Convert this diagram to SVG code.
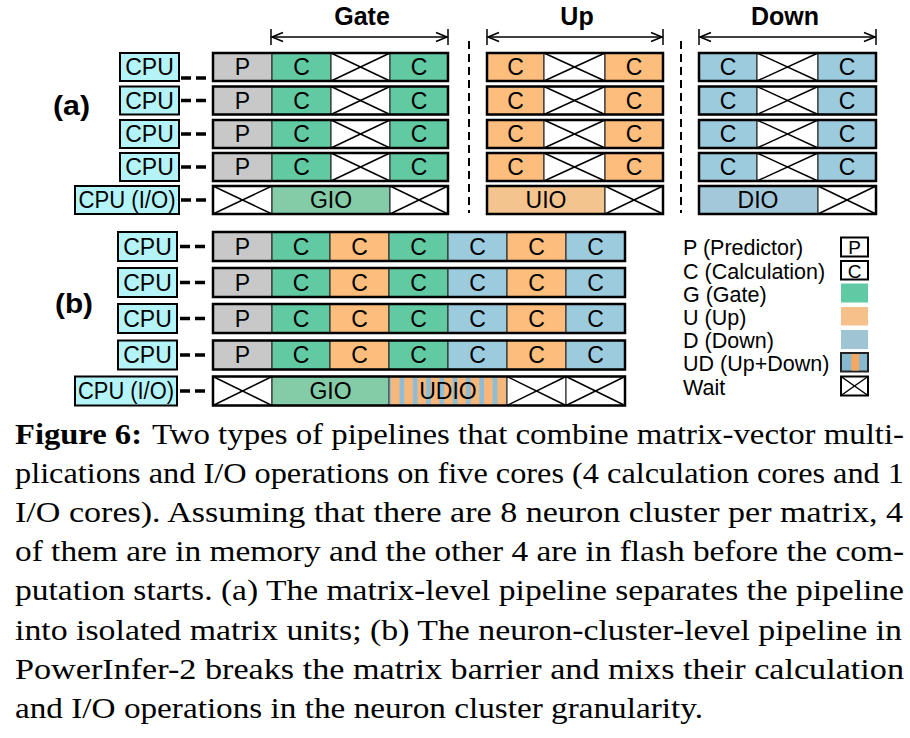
<svg xmlns="http://www.w3.org/2000/svg" width="910" height="738" viewBox="0 0 910 738" font-family="Liberation Sans, Arial, Helvetica, sans-serif">
<style>
.t{font-size:23px;text-anchor:middle;fill:#000}
.lg{font-size:21.5px;fill:#000}
.hd{font-size:25px;font-weight:bold;text-anchor:middle}
.lab{font-size:27px;font-weight:bold}
.cap{font-size:29px;fill:#000}
.cpu{fill:#b4f4f8;stroke:#000;stroke-width:2}
.cell{stroke:#333;stroke-width:1.2}
.frame{fill:none;stroke:#000;stroke-width:2.5}
.P{fill:#c8c8c8}.G{fill:#62caa3}.U{fill:#fdbd7c}.D{fill:#9dcbde}
.GIO{fill:#84cca8}.UIO{fill:#f4c48e}.DIO{fill:#a3c8da}
.W{fill:#fff}
.x{stroke:#000;stroke-width:1.5}
.dash{stroke:#000;stroke-width:3.5;stroke-dasharray:10 5;fill:none}
.vsep{stroke:#000;stroke-width:2;stroke-dasharray:8 5}
.arr{stroke:#000;stroke-width:1.5;fill:none}
</style>
<defs>
<marker id="ah" markerWidth="14" markerHeight="12" refX="12" refY="6" orient="auto-start-reverse" markerUnits="userSpaceOnUse">
<path d="M1,1.5 L12,6 L1,10.5" fill="none" stroke="#000" stroke-width="1.6"/>
</marker>
<pattern id="ud" patternUnits="userSpaceOnUse" x="391" y="0" width="13.3" height="40">
<rect x="0" y="0" width="13.3" height="40" fill="#f7b77a"/>
<rect x="8.5" y="0" width="4.8" height="40" fill="#8fbdd4"/>
</pattern>
</defs>

<!-- headers -->
<g id="headers">
<text class="hd" x="362" y="25">Gate</text>
<text class="hd" x="577" y="25">Up</text>
<text class="hd" x="785" y="25">Down</text>
<line class="arr" x1="272" y1="37" x2="447" y2="37" marker-start="url(#ah)" marker-end="url(#ah)"/>
<line class="arr" x1="271" y1="29" x2="271" y2="45"/><line class="arr" x1="448" y1="29" x2="448" y2="45"/>
<line class="arr" x1="488" y1="37" x2="662" y2="37" marker-start="url(#ah)" marker-end="url(#ah)"/>
<line class="arr" x1="487" y1="29" x2="487" y2="45"/><line class="arr" x1="663" y1="29" x2="663" y2="45"/>
<line class="arr" x1="700" y1="37" x2="875" y2="37" marker-start="url(#ah)" marker-end="url(#ah)"/>
<line class="arr" x1="699" y1="29" x2="699" y2="45"/><line class="arr" x1="876" y1="29" x2="876" y2="45"/>
<line class="vsep" x1="469" y1="41" x2="469" y2="213"/>
<line class="vsep" x1="681" y1="41" x2="681" y2="213"/>
<text class="lab" x="53" y="115" textLength="37" lengthAdjust="spacingAndGlyphs">(a)</text>
<text class="lab" x="55" y="313" textLength="38" lengthAdjust="spacingAndGlyphs">(b)</text>
</g>

<!-- connectors -->
<g id="connectors">
<line class="dash" x1="181" y1="78" x2="211" y2="78"/>
<line class="dash" x1="181" y1="100.5" x2="211" y2="100.5"/>
<line class="dash" x1="181" y1="134" x2="211" y2="134"/>
<line class="dash" x1="181" y1="167" x2="211" y2="167"/>
<line class="dash" x1="181" y1="200" x2="211" y2="200"/>
<line class="dash" x1="180" y1="246.5" x2="210" y2="246.5"/>
<line class="dash" x1="180" y1="282.5" x2="210" y2="282.5"/>
<line class="dash" x1="180" y1="318.5" x2="210" y2="318.5"/>
<line class="dash" x1="180" y1="355" x2="210" y2="355"/>
<line class="dash" x1="180" y1="391" x2="210" y2="391"/>
</g>

<!-- (a) CPU nodes -->
<g id="a-cpu1"><rect class="cpu" x="120" y="53" width="59" height="28"/><text class="t" x="149.5" y="75">CPU</text></g>
<g id="a-cpu2"><rect class="cpu" x="120" y="86.5" width="59" height="28"/><text class="t" x="149.5" y="108.5">CPU</text></g>
<g id="a-cpu3"><rect class="cpu" x="120" y="120" width="59" height="28"/><text class="t" x="149.5" y="142">CPU</text></g>
<g id="a-cpu4"><rect class="cpu" x="120" y="153" width="59" height="28"/><text class="t" x="149.5" y="175">CPU</text></g>
<g id="a-cpuio"><rect class="cpu" x="75" y="186" width="104" height="28"/><text class="t" x="127" y="208" textLength="97" lengthAdjust="spacingAndGlyphs">CPU (I/O)</text></g>

<!-- (a) Gate rows -->
<g id="a-gate1">
<rect class="cell P" x="213" y="53" width="59" height="28"/><rect class="cell G" x="272" y="53" width="59" height="28"/>
<rect class="cell W" x="331" y="53" width="59" height="28" stroke="#777"/><line class="x" x1="331" y1="53" x2="390" y2="81"/><line class="x" x1="331" y1="81" x2="390" y2="53"/>
<rect class="cell G" x="390" y="53" width="58" height="28"/><rect class="frame" x="213" y="53" width="235" height="28"/>
<text class="t" x="242.5" y="75">P</text><text class="t" x="301.5" y="75">C</text><text class="t" x="419" y="75">C</text>
</g>
<g id="a-gate2">
<rect class="cell P" x="213" y="86.5" width="59" height="28"/><rect class="cell G" x="272" y="86.5" width="59" height="28"/>
<rect class="cell W" x="331" y="86.5" width="59" height="28" stroke="#777"/><line class="x" x1="331" y1="86.5" x2="390" y2="114.5"/><line class="x" x1="331" y1="114.5" x2="390" y2="86.5"/>
<rect class="cell G" x="390" y="86.5" width="58" height="28"/><rect class="frame" x="213" y="86.5" width="235" height="28"/>
<text class="t" x="242.5" y="108.5">P</text><text class="t" x="301.5" y="108.5">C</text><text class="t" x="419" y="108.5">C</text>
</g>
<g id="a-gate3">
<rect class="cell P" x="213" y="120" width="59" height="28"/><rect class="cell G" x="272" y="120" width="59" height="28"/>
<rect class="cell W" x="331" y="120" width="59" height="28" stroke="#777"/><line class="x" x1="331" y1="120" x2="390" y2="148"/><line class="x" x1="331" y1="148" x2="390" y2="120"/>
<rect class="cell G" x="390" y="120" width="58" height="28"/><rect class="frame" x="213" y="120" width="235" height="28"/>
<text class="t" x="242.5" y="142">P</text><text class="t" x="301.5" y="142">C</text><text class="t" x="419" y="142">C</text>
</g>
<g id="a-gate4">
<rect class="cell P" x="213" y="153" width="59" height="28"/><rect class="cell G" x="272" y="153" width="59" height="28"/>
<rect class="cell W" x="331" y="153" width="59" height="28" stroke="#777"/><line class="x" x1="331" y1="153" x2="390" y2="181"/><line class="x" x1="331" y1="181" x2="390" y2="153"/>
<rect class="cell G" x="390" y="153" width="58" height="28"/><rect class="frame" x="213" y="153" width="235" height="28"/>
<text class="t" x="242.5" y="175">P</text><text class="t" x="301.5" y="175">C</text><text class="t" x="419" y="175">C</text>
</g>
<g id="a-gate5">
<rect class="cell W" x="213" y="186" width="59" height="28"/><line class="x" x1="213" y1="186" x2="272" y2="214"/><line class="x" x1="213" y1="214" x2="272" y2="186"/>
<rect class="cell GIO" x="272" y="186" width="118" height="28"/>
<rect class="cell W" x="390" y="186" width="58" height="28"/><line class="x" x1="390" y1="186" x2="448" y2="214"/><line class="x" x1="390" y1="214" x2="448" y2="186"/>
<rect class="frame" x="213" y="186" width="235" height="28"/>
<text class="t" x="331" y="208">GIO</text>
</g>

<!-- (a) Up rows -->
<g id="a-up1">
<rect class="cell U" x="487" y="53" width="57" height="28"/>
<rect class="cell W" x="544" y="53" width="61" height="28" stroke="#777"/><line class="x" x1="544" y1="53" x2="605" y2="81"/><line class="x" x1="544" y1="81" x2="605" y2="53"/>
<rect class="cell U" x="605" y="53" width="58" height="28"/><rect class="frame" x="487" y="53" width="176" height="28"/>
<text class="t" x="515.5" y="75">C</text><text class="t" x="634" y="75">C</text>
</g>
<g id="a-up2">
<rect class="cell U" x="487" y="86.5" width="57" height="28"/>
<rect class="cell W" x="544" y="86.5" width="61" height="28" stroke="#777"/><line class="x" x1="544" y1="86.5" x2="605" y2="114.5"/><line class="x" x1="544" y1="114.5" x2="605" y2="86.5"/>
<rect class="cell U" x="605" y="86.5" width="58" height="28"/><rect class="frame" x="487" y="86.5" width="176" height="28"/>
<text class="t" x="515.5" y="108.5">C</text><text class="t" x="634" y="108.5">C</text>
</g>
<g id="a-up3">
<rect class="cell U" x="487" y="120" width="57" height="28"/>
<rect class="cell W" x="544" y="120" width="61" height="28" stroke="#777"/><line class="x" x1="544" y1="120" x2="605" y2="148"/><line class="x" x1="544" y1="148" x2="605" y2="120"/>
<rect class="cell U" x="605" y="120" width="58" height="28"/><rect class="frame" x="487" y="120" width="176" height="28"/>
<text class="t" x="515.5" y="142">C</text><text class="t" x="634" y="142">C</text>
</g>
<g id="a-up4">
<rect class="cell U" x="487" y="153" width="57" height="28"/>
<rect class="cell W" x="544" y="153" width="61" height="28" stroke="#777"/><line class="x" x1="544" y1="153" x2="605" y2="181"/><line class="x" x1="544" y1="181" x2="605" y2="153"/>
<rect class="cell U" x="605" y="153" width="58" height="28"/><rect class="frame" x="487" y="153" width="176" height="28"/>
<text class="t" x="515.5" y="175">C</text><text class="t" x="634" y="175">C</text>
</g>
<g id="a-up5">
<rect class="cell UIO" x="487" y="186" width="118" height="28"/>
<rect class="cell W" x="605" y="186" width="58" height="28"/><line class="x" x1="605" y1="186" x2="663" y2="214"/><line class="x" x1="605" y1="214" x2="663" y2="186"/>
<rect class="frame" x="487" y="186" width="176" height="28"/>
<text class="t" x="546" y="208">UIO</text>
</g>

<!-- (a) Down rows -->
<g id="a-down1">
<rect class="cell D" x="699" y="53" width="58" height="28"/>
<rect class="cell W" x="757" y="53" width="61" height="28" stroke="#777"/><line class="x" x1="757" y1="53" x2="818" y2="81"/><line class="x" x1="757" y1="81" x2="818" y2="53"/>
<rect class="cell D" x="818" y="53" width="58" height="28"/><rect class="frame" x="699" y="53" width="177" height="28"/>
<text class="t" x="728" y="75">C</text><text class="t" x="847" y="75">C</text>
</g>
<g id="a-down2">
<rect class="cell D" x="699" y="86.5" width="58" height="28"/>
<rect class="cell W" x="757" y="86.5" width="61" height="28" stroke="#777"/><line class="x" x1="757" y1="86.5" x2="818" y2="114.5"/><line class="x" x1="757" y1="114.5" x2="818" y2="86.5"/>
<rect class="cell D" x="818" y="86.5" width="58" height="28"/><rect class="frame" x="699" y="86.5" width="177" height="28"/>
<text class="t" x="728" y="108.5">C</text><text class="t" x="847" y="108.5">C</text>
</g>
<g id="a-down3">
<rect class="cell D" x="699" y="120" width="58" height="28"/>
<rect class="cell W" x="757" y="120" width="61" height="28" stroke="#777"/><line class="x" x1="757" y1="120" x2="818" y2="148"/><line class="x" x1="757" y1="148" x2="818" y2="120"/>
<rect class="cell D" x="818" y="120" width="58" height="28"/><rect class="frame" x="699" y="120" width="177" height="28"/>
<text class="t" x="728" y="142">C</text><text class="t" x="847" y="142">C</text>
</g>
<g id="a-down4">
<rect class="cell D" x="699" y="153" width="58" height="28"/>
<rect class="cell W" x="757" y="153" width="61" height="28" stroke="#777"/><line class="x" x1="757" y1="153" x2="818" y2="181"/><line class="x" x1="757" y1="181" x2="818" y2="153"/>
<rect class="cell D" x="818" y="153" width="58" height="28"/><rect class="frame" x="699" y="153" width="177" height="28"/>
<text class="t" x="728" y="175">C</text><text class="t" x="847" y="175">C</text>
</g>
<g id="a-down5">
<rect class="cell DIO" x="699" y="186" width="119" height="28"/>
<rect class="cell W" x="818" y="186" width="58" height="28"/><line class="x" x1="818" y1="186" x2="876" y2="214"/><line class="x" x1="818" y1="214" x2="876" y2="186"/>
<rect class="frame" x="699" y="186" width="177" height="28"/>
<text class="t" x="758" y="208">DIO</text>
</g>

<!-- (b) CPU nodes -->
<g id="b-cpu1"><rect class="cpu" x="118" y="232" width="59" height="29"/><text class="t" x="147.5" y="254.5">CPU</text></g>
<g id="b-cpu2"><rect class="cpu" x="118" y="268" width="59" height="29"/><text class="t" x="147.5" y="290.5">CPU</text></g>
<g id="b-cpu3"><rect class="cpu" x="118" y="304" width="59" height="29"/><text class="t" x="147.5" y="326.5">CPU</text></g>
<g id="b-cpu4"><rect class="cpu" x="118" y="340.5" width="59" height="29"/><text class="t" x="147.5" y="363">CPU</text></g>
<g id="b-cpuio"><rect class="cpu" x="75" y="376.5" width="102" height="29"/><text class="t" x="126" y="399" textLength="96" lengthAdjust="spacingAndGlyphs">CPU (I/O)</text></g>

<!-- (b) rows -->
<g id="b-row1">
<rect class="cell P" x="213" y="232" width="59" height="29"/><rect class="cell G" x="272" y="232" width="58" height="29"/><rect class="cell U" x="330" y="232" width="59" height="29"/><rect class="cell G" x="389" y="232" width="59" height="29"/><rect class="cell D" x="448" y="232" width="59" height="29"/><rect class="cell U" x="507" y="232" width="59" height="29"/><rect class="cell D" x="566" y="232" width="59" height="29"/>
<rect class="frame" x="213" y="232" width="412" height="29"/>
<text class="t" x="242.5" y="254.5">P</text><text class="t" x="301" y="254.5">C</text><text class="t" x="359.5" y="254.5">C</text><text class="t" x="418.5" y="254.5">C</text><text class="t" x="477.5" y="254.5">C</text><text class="t" x="536.5" y="254.5">C</text><text class="t" x="595.5" y="254.5">C</text>
</g>
<g id="b-row2">
<rect class="cell P" x="213" y="268" width="59" height="29"/><rect class="cell G" x="272" y="268" width="58" height="29"/><rect class="cell U" x="330" y="268" width="59" height="29"/><rect class="cell G" x="389" y="268" width="59" height="29"/><rect class="cell D" x="448" y="268" width="59" height="29"/><rect class="cell U" x="507" y="268" width="59" height="29"/><rect class="cell D" x="566" y="268" width="59" height="29"/>
<rect class="frame" x="213" y="268" width="412" height="29"/>
<text class="t" x="242.5" y="290.5">P</text><text class="t" x="301" y="290.5">C</text><text class="t" x="359.5" y="290.5">C</text><text class="t" x="418.5" y="290.5">C</text><text class="t" x="477.5" y="290.5">C</text><text class="t" x="536.5" y="290.5">C</text><text class="t" x="595.5" y="290.5">C</text>
</g>
<g id="b-row3">
<rect class="cell P" x="213" y="304" width="59" height="29"/><rect class="cell G" x="272" y="304" width="58" height="29"/><rect class="cell U" x="330" y="304" width="59" height="29"/><rect class="cell G" x="389" y="304" width="59" height="29"/><rect class="cell D" x="448" y="304" width="59" height="29"/><rect class="cell U" x="507" y="304" width="59" height="29"/><rect class="cell D" x="566" y="304" width="59" height="29"/>
<rect class="frame" x="213" y="304" width="412" height="29"/>
<text class="t" x="242.5" y="326.5">P</text><text class="t" x="301" y="326.5">C</text><text class="t" x="359.5" y="326.5">C</text><text class="t" x="418.5" y="326.5">C</text><text class="t" x="477.5" y="326.5">C</text><text class="t" x="536.5" y="326.5">C</text><text class="t" x="595.5" y="326.5">C</text>
</g>
<g id="b-row4">
<rect class="cell P" x="213" y="340.5" width="59" height="29"/><rect class="cell G" x="272" y="340.5" width="58" height="29"/><rect class="cell U" x="330" y="340.5" width="59" height="29"/><rect class="cell G" x="389" y="340.5" width="59" height="29"/><rect class="cell D" x="448" y="340.5" width="59" height="29"/><rect class="cell U" x="507" y="340.5" width="59" height="29"/><rect class="cell D" x="566" y="340.5" width="59" height="29"/>
<rect class="frame" x="213" y="340.5" width="412" height="29"/>
<text class="t" x="242.5" y="363">P</text><text class="t" x="301" y="363">C</text><text class="t" x="359.5" y="363">C</text><text class="t" x="418.5" y="363">C</text><text class="t" x="477.5" y="363">C</text><text class="t" x="536.5" y="363">C</text><text class="t" x="595.5" y="363">C</text>
</g>
<g id="b-row5">
<rect class="cell W" x="213" y="376.5" width="59" height="29"/><line class="x" x1="213" y1="376.5" x2="272" y2="405.5"/><line class="x" x1="213" y1="405.5" x2="272" y2="376.5"/>
<rect class="cell GIO" x="272" y="376.5" width="117" height="29"/>
<rect x="389" y="376.5" width="118" height="29" fill="url(#ud)" stroke="#555" stroke-width="1.2"/>
<rect class="cell W" x="507" y="376.5" width="59" height="29"/><line class="x" x1="507" y1="376.5" x2="566" y2="405.5"/><line class="x" x1="507" y1="405.5" x2="566" y2="376.5"/>
<rect class="cell W" x="566" y="376.5" width="59" height="29"/><line class="x" x1="566" y1="376.5" x2="625" y2="405.5"/><line class="x" x1="566" y1="405.5" x2="625" y2="376.5"/>
<rect class="frame" x="213" y="376.5" width="412" height="29"/>
<text class="t" x="330.5" y="399">GIO</text><text class="t" x="448" y="399">UDIO</text>
</g>

<!-- legend -->
<g id="legend">
<text class="lg" x="683" y="255">P (Predictor)</text>
<text class="lg" x="683" y="278.5">C (Calculation)</text>
<text class="lg" x="683" y="302">G (Gate)</text>
<text class="lg" x="683" y="325">U (Up)</text>
<text class="lg" x="683" y="348">D (Down)</text>
<text class="lg" x="683" y="371">UD (Up+Down)</text>
<text class="lg" x="683" y="394.5">Wait</text>
<rect x="841" y="237.5" width="27" height="19" fill="#fff" stroke="#000" stroke-width="2"/>
<text x="854.5" y="254" font-size="19" text-anchor="middle">P</text>
<rect x="841" y="261" width="27" height="18.5" fill="#fff" stroke="#000" stroke-width="2"/>
<text x="854.5" y="277.5" font-size="19" text-anchor="middle">C</text>
<rect x="841" y="283.5" width="27" height="19" fill="#5fcaa4"/>
<rect x="841" y="307" width="27" height="18.5" fill="#f5c08a"/>
<rect x="841" y="330" width="27" height="19" fill="#9fc4d4"/>
<rect x="841" y="353" width="27" height="18.5" fill="#86b8d0" stroke="#222" stroke-width="2"/>
<rect x="851.5" y="354" width="7.5" height="16.5" fill="#f7a75e"/>
<rect x="841" y="376.5" width="27" height="19" fill="#fff" stroke="#000" stroke-width="2"/>
<line class="x" x1="841" y1="376.5" x2="868" y2="395.5"/><line class="x" x1="841" y1="395.5" x2="868" y2="376.5"/>
</g>

<!-- caption -->
<g id="caption" font-family="Liberation Serif, Times New Roman, Times, serif">
<text class="cap" x="15" y="444" font-weight="bold" textLength="127" lengthAdjust="spacingAndGlyphs">Figure 6:</text>
<text class="cap" x="152" y="444" textLength="752" lengthAdjust="spacingAndGlyphs">Two types of pipelines that combine matrix-vector multi-</text>
<text class="cap" x="15" y="483.1" textLength="889" lengthAdjust="spacingAndGlyphs">plications and I/O operations on five cores (4 calculation cores and 1</text>
<text class="cap" x="15" y="522.2" textLength="888" lengthAdjust="spacingAndGlyphs">I/O cores). Assuming that there are 8 neuron cluster per matrix, 4</text>
<text class="cap" x="15" y="561.3" textLength="889" lengthAdjust="spacingAndGlyphs">of them are in memory and the other 4 are in flash before the com-</text>
<text class="cap" x="15" y="600.4" textLength="889" lengthAdjust="spacingAndGlyphs">putation starts. (a) The matrix-level pipeline separates the pipeline</text>
<text class="cap" x="15" y="639.5" textLength="887" lengthAdjust="spacingAndGlyphs">into isolated matrix units; (b) The neuron-cluster-level pipeline in</text>
<text class="cap" x="15" y="678.6" textLength="889" lengthAdjust="spacingAndGlyphs">PowerInfer-2 breaks the matrix barrier and mixs their calculation</text>
<text class="cap" x="15" y="717.7" textLength="688" lengthAdjust="spacingAndGlyphs">and I/O operations in the neuron cluster granularity.</text>
</g>
</svg>
